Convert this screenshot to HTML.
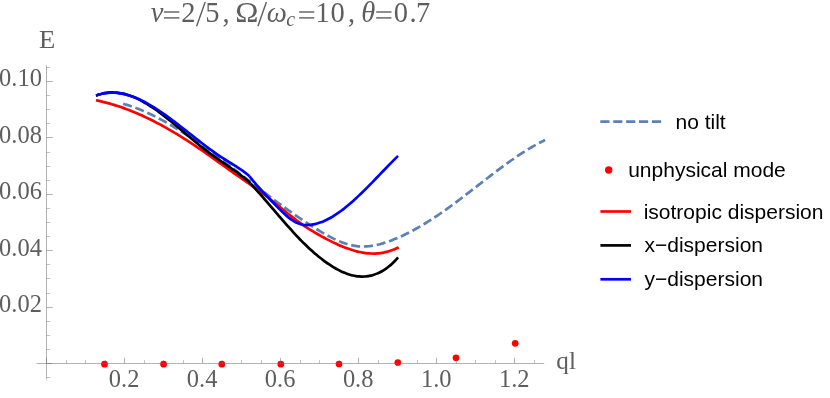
<!DOCTYPE html>
<html><head><meta charset="utf-8"><title>plot</title>
<style>
html,body{margin:0;padding:0;background:#fff;}
body{width:830px;height:398px;overflow:hidden;font-family:"Liberation Sans",sans-serif;}
svg{display:block;}
</style></head><body>
<svg width="830" height="398" viewBox="0 0 830 398" style="will-change:transform">
<rect width="830" height="398" fill="#fff"/>
<path d="M123.20 103.75 C123.70 103.90 125.19 104.33 126.19 104.64 C127.19 104.94 128.19 105.26 129.18 105.59 C130.18 105.92 131.18 106.26 132.18 106.61 C133.17 106.96 134.17 107.33 135.17 107.70 C136.17 108.07 137.16 108.46 138.16 108.85 C139.16 109.25 140.16 109.65 141.15 110.07 C142.15 110.48 143.15 110.91 144.15 111.34 C145.14 111.77 146.14 112.22 147.14 112.67 C148.13 113.13 149.13 113.59 150.13 114.06 C151.13 114.53 152.12 115.02 153.12 115.51 C154.12 116.00 155.12 116.50 156.11 117.00 C157.11 117.51 158.11 118.03 159.11 118.55 C160.10 119.08 161.10 119.61 162.10 120.15 C163.10 120.70 164.09 121.25 165.09 121.80 C166.09 122.36 167.09 122.92 168.08 123.50 C169.08 124.07 170.08 124.65 171.08 125.24 C172.07 125.82 173.07 126.42 174.07 127.02 C175.06 127.62 176.06 128.23 177.06 128.84 C178.06 129.46 179.05 130.08 180.05 130.71 C181.05 131.34 182.05 131.97 183.04 132.61 C184.04 133.25 185.04 133.90 186.04 134.55 C187.03 135.20 188.03 135.86 189.03 136.52 C190.03 137.19 191.02 137.86 192.02 138.53 C193.02 139.20 194.02 139.88 195.01 140.57 C196.01 141.25 197.01 141.94 198.00 142.63 C199.00 143.33 200.00 144.03 201.00 144.73 C201.99 145.43 202.99 146.14 203.99 146.85 C204.99 147.56 205.98 148.27 206.98 148.99 C207.98 149.71 208.98 150.43 209.97 151.16 C210.97 151.89 211.97 152.62 212.97 153.35 C213.96 154.08 214.96 154.82 215.96 155.56 C216.96 156.30 217.95 157.04 218.95 157.78 C219.95 158.53 220.95 159.27 221.94 160.02 C222.94 160.77 223.94 161.52 224.93 162.28 C225.93 163.03 226.93 163.79 227.93 164.54 C228.92 165.30 229.92 166.06 230.92 166.82 C231.92 167.58 232.91 168.34 233.91 169.11 C234.91 169.87 235.91 170.64 236.90 171.40 C237.90 172.17 238.90 172.93 239.90 173.70 C240.89 174.47 241.89 175.23 242.89 176.00 C243.89 176.77 244.88 177.54 245.88 178.31 C246.88 179.08 247.87 179.84 248.87 180.61 C249.87 181.38 250.87 182.15 251.86 182.92 C252.86 183.68 253.86 184.45 254.86 185.22 C255.85 185.98 256.85 186.75 257.85 187.51 C258.85 188.28 259.84 189.04 260.84 189.80 C261.84 190.56 262.84 191.32 263.83 192.08 C264.83 192.84 265.83 193.60 266.83 194.35 C267.82 195.11 268.82 195.86 269.82 196.61 C270.82 197.36 271.81 198.11 272.81 198.86 C273.81 199.60 274.80 200.34 275.80 201.09 C276.80 201.83 277.80 202.56 278.79 203.30 C279.79 204.03 280.79 204.76 281.79 205.49 C282.78 206.22 283.78 206.95 284.78 207.67 C285.78 208.39 286.77 209.11 287.77 209.82 C288.77 210.53 289.77 211.24 290.76 211.95 C291.76 212.65 292.76 213.35 293.76 214.05 C294.75 214.75 295.75 215.44 296.75 216.13 C297.74 216.81 298.74 217.50 299.74 218.17 C300.74 218.85 301.73 219.52 302.73 220.19 C303.73 220.86 304.73 221.52 305.72 222.17 C306.72 222.83 307.72 223.48 308.72 224.12 C309.71 224.77 310.71 225.41 311.71 226.04 C312.71 226.67 313.70 227.30 314.70 227.91 C315.70 228.53 316.70 229.15 317.69 229.75 C318.69 230.36 319.69 230.96 320.69 231.55 C321.68 232.14 322.68 232.73 323.68 233.30 C324.67 233.87 325.67 234.44 326.67 234.99 C327.67 235.55 328.66 236.09 329.66 236.62 C330.66 237.14 331.66 237.66 332.65 238.16 C333.65 238.66 334.65 239.14 335.65 239.61 C336.64 240.08 337.64 240.53 338.64 240.95 C339.64 241.38 340.63 241.79 341.63 242.18 C342.63 242.57 343.63 242.94 344.62 243.28 C345.62 243.62 346.62 243.94 347.61 244.24 C348.61 244.53 349.61 244.80 350.61 245.04 C351.60 245.28 352.60 245.49 353.60 245.67 C354.60 245.86 355.59 246.01 356.59 246.13 C357.59 246.26 358.59 246.35 359.58 246.41 C360.58 246.47 361.58 246.51 362.58 246.52 C363.57 246.52 364.57 246.50 365.57 246.45 C366.57 246.41 367.56 246.33 368.56 246.24 C369.56 246.14 370.56 246.02 371.55 245.88 C372.55 245.73 373.55 245.56 374.54 245.38 C375.54 245.19 376.54 244.98 377.54 244.75 C378.53 244.52 379.53 244.27 380.53 244.00 C381.53 243.74 382.52 243.45 383.52 243.15 C384.52 242.85 385.52 242.53 386.51 242.19 C387.51 241.86 388.51 241.51 389.51 241.15 C390.50 240.78 391.50 240.41 392.50 240.02 C393.50 239.63 394.49 239.23 395.49 238.81 C396.49 238.40 397.48 237.98 398.48 237.54 C399.48 237.11 400.48 236.66 401.47 236.20 C402.47 235.74 403.47 235.27 404.47 234.79 C405.46 234.31 406.46 233.82 407.46 233.32 C408.46 232.82 409.45 232.31 410.45 231.79 C411.45 231.27 412.45 230.74 413.44 230.20 C414.44 229.66 415.44 229.11 416.44 228.55 C417.43 227.99 418.43 227.42 419.43 226.84 C420.43 226.26 421.42 225.68 422.42 225.08 C423.42 224.48 424.41 223.88 425.41 223.27 C426.41 222.66 427.41 222.03 428.40 221.41 C429.40 220.78 430.40 220.14 431.40 219.50 C432.39 218.85 433.39 218.20 434.39 217.54 C435.39 216.88 436.38 216.22 437.38 215.54 C438.38 214.87 439.38 214.19 440.37 213.50 C441.37 212.82 442.37 212.13 443.37 211.43 C444.36 210.73 445.36 210.02 446.36 209.31 C447.35 208.60 448.35 207.88 449.35 207.16 C450.35 206.44 451.34 205.71 452.34 204.97 C453.34 204.24 454.34 203.50 455.33 202.76 C456.33 202.02 457.33 201.27 458.33 200.52 C459.32 199.77 460.32 199.02 461.32 198.26 C462.32 197.50 463.31 196.74 464.31 195.98 C465.31 195.21 466.31 194.45 467.30 193.68 C468.30 192.91 469.30 192.14 470.30 191.37 C471.29 190.60 472.29 189.83 473.29 189.06 C474.28 188.28 475.28 187.51 476.28 186.73 C477.28 185.96 478.27 185.18 479.27 184.41 C480.27 183.64 481.27 182.86 482.26 182.09 C483.26 181.32 484.26 180.54 485.26 179.77 C486.25 179.00 487.25 178.23 488.25 177.47 C489.25 176.70 490.24 175.94 491.24 175.17 C492.24 174.41 493.24 173.65 494.23 172.90 C495.23 172.14 496.23 171.39 497.22 170.64 C498.22 169.89 499.22 169.14 500.22 168.40 C501.21 167.66 502.21 166.92 503.21 166.19 C504.21 165.46 505.20 164.74 506.20 164.01 C507.20 163.29 508.20 162.58 509.19 161.87 C510.19 161.16 511.19 160.46 512.19 159.76 C513.18 159.07 514.18 158.38 515.18 157.69 C516.18 157.01 517.17 156.34 518.17 155.67 C519.17 155.00 520.17 154.34 521.16 153.69 C522.16 153.04 523.16 152.40 524.15 151.77 C525.15 151.13 526.15 150.51 527.15 149.90 C528.14 149.28 529.14 148.68 530.14 148.08 C531.14 147.49 532.13 146.91 533.13 146.33 C534.13 145.76 535.13 145.20 536.12 144.65 C537.12 144.09 538.12 143.55 539.12 143.03 C540.11 142.50 541.11 141.98 542.11 141.48 C543.11 140.98 544.60 140.26 545.10 140.01" fill="none" stroke="#5e81b5" stroke-width="2.7" stroke-dasharray="9 3.85"/>
<path d="M96.00 100.25 C96.50 100.36 98.00 100.67 99.00 100.89 C99.99 101.12 100.99 101.35 101.99 101.59 C102.99 101.83 103.99 102.07 104.99 102.33 C105.99 102.59 106.99 102.85 107.98 103.13 C108.98 103.40 109.98 103.69 110.98 103.98 C111.98 104.27 112.98 104.57 113.98 104.88 C114.97 105.18 115.97 105.50 116.97 105.82 C117.97 106.15 118.97 106.48 119.97 106.82 C120.97 107.16 121.97 107.51 122.96 107.87 C123.96 108.22 124.96 108.59 125.96 108.96 C126.96 109.33 127.96 109.71 128.96 110.10 C129.96 110.49 130.95 110.88 131.95 111.29 C132.95 111.69 133.95 112.10 134.95 112.52 C135.95 112.93 136.95 113.36 137.94 113.79 C138.94 114.23 139.94 114.67 140.94 115.11 C141.94 115.56 142.94 116.01 143.94 116.48 C144.94 116.94 145.93 117.41 146.93 117.88 C147.93 118.36 148.93 118.84 149.93 119.33 C150.93 119.82 151.93 120.32 152.92 120.82 C153.92 121.32 154.92 121.83 155.92 122.35 C156.92 122.86 157.92 123.39 158.92 123.92 C159.92 124.45 160.91 124.98 161.91 125.53 C162.91 126.07 163.91 126.62 164.91 127.17 C165.91 127.73 166.91 128.29 167.90 128.86 C168.90 129.42 169.90 130.00 170.90 130.58 C171.90 131.16 172.90 131.74 173.90 132.34 C174.90 132.93 175.89 133.53 176.89 134.13 C177.89 134.73 178.89 135.34 179.89 135.96 C180.89 136.57 181.89 137.19 182.89 137.82 C183.88 138.44 184.88 139.08 185.88 139.71 C186.88 140.35 187.88 140.99 188.88 141.64 C189.88 142.29 190.87 142.94 191.87 143.60 C192.87 144.26 193.87 144.92 194.87 145.59 C195.87 146.26 196.87 146.94 197.87 147.61 C198.86 148.29 199.86 148.98 200.86 149.66 C201.86 150.35 202.86 151.04 203.86 151.74 C204.86 152.43 205.85 153.13 206.85 153.84 C207.85 154.54 208.85 155.24 209.85 155.95 C210.85 156.66 211.85 157.37 212.85 158.08 C213.84 158.79 214.84 159.50 215.84 160.21 C216.84 160.93 217.84 161.64 218.84 162.36 C219.84 163.07 220.83 163.79 221.83 164.50 C222.83 165.22 223.83 165.94 224.83 166.65 C225.83 167.36 226.83 168.08 227.83 168.79 C228.82 169.50 229.82 170.22 230.82 170.93 C231.82 171.63 232.82 172.34 233.82 173.05 C234.82 173.75 235.82 174.46 236.81 175.15 C237.81 175.85 238.81 176.55 239.81 177.24 C240.81 177.94 241.81 178.63 242.81 179.31 C243.80 180.00 244.80 180.69 245.80 181.38 C246.80 182.07 247.80 182.75 248.80 183.45 C249.80 184.14 250.80 184.83 251.79 185.52 C252.79 186.22 253.79 186.92 254.79 187.63 C255.79 188.33 256.79 189.05 257.79 189.76 C258.78 190.48 259.78 191.21 260.78 191.95 C261.78 192.68 262.78 193.43 263.78 194.18 C264.78 194.94 265.78 195.70 266.77 196.48 C267.77 197.26 268.77 198.04 269.77 198.84 C270.77 199.63 271.77 200.44 272.77 201.24 C273.77 202.05 274.76 202.86 275.76 203.68 C276.76 204.49 277.76 205.31 278.76 206.13 C279.76 206.95 280.76 207.77 281.75 208.59 C282.75 209.40 283.75 210.22 284.75 211.03 C285.75 211.84 286.75 212.65 287.75 213.45 C288.75 214.25 289.74 215.05 290.74 215.83 C291.74 216.62 292.74 217.40 293.74 218.17 C294.74 218.94 295.74 219.70 296.73 220.45 C297.73 221.19 298.73 221.93 299.73 222.65 C300.73 223.37 301.73 224.08 302.73 224.78 C303.73 225.47 304.72 226.15 305.72 226.81 C306.72 227.48 307.72 228.13 308.72 228.77 C309.72 229.41 310.72 230.04 311.71 230.66 C312.71 231.27 313.71 231.88 314.71 232.47 C315.71 233.06 316.71 233.65 317.71 234.22 C318.71 234.80 319.70 235.36 320.70 235.91 C321.70 236.47 322.70 237.01 323.70 237.55 C324.70 238.08 325.70 238.61 326.70 239.12 C327.69 239.64 328.69 240.15 329.69 240.65 C330.69 241.15 331.69 241.64 332.69 242.12 C333.69 242.60 334.68 243.08 335.68 243.54 C336.68 244.01 337.68 244.46 338.68 244.90 C339.68 245.35 340.68 245.78 341.68 246.20 C342.67 246.62 343.67 247.02 344.67 247.42 C345.67 247.81 346.67 248.18 347.67 248.54 C348.67 248.90 349.66 249.25 350.66 249.57 C351.66 249.90 352.66 250.21 353.66 250.50 C354.66 250.79 355.66 251.07 356.66 251.32 C357.65 251.57 358.65 251.81 359.65 252.02 C360.65 252.24 361.65 252.43 362.65 252.60 C363.65 252.77 364.64 252.92 365.64 253.05 C366.64 253.17 367.64 253.28 368.64 253.36 C369.64 253.43 370.64 253.49 371.64 253.52 C372.63 253.55 373.63 253.55 374.63 253.53 C375.63 253.51 376.63 253.46 377.63 253.39 C378.63 253.31 379.63 253.21 380.62 253.07 C381.62 252.94 382.62 252.78 383.62 252.59 C384.62 252.39 385.62 252.17 386.62 251.92 C387.61 251.67 388.61 251.38 389.61 251.07 C390.61 250.75 391.61 250.40 392.61 250.02 C393.61 249.64 394.61 249.22 395.60 248.77 C396.60 248.32 398.10 247.56 398.60 247.31" fill="none" stroke="#ff0000" stroke-width="2.7" stroke-linejoin="round"/>
<path d="M96.00 95.68 C96.50 95.50 97.98 94.91 98.97 94.59 C99.96 94.26 100.95 93.97 101.94 93.73 C102.93 93.48 103.92 93.27 104.91 93.09 C105.90 92.92 106.89 92.78 107.88 92.68 C108.88 92.57 109.87 92.51 110.86 92.47 C111.85 92.44 112.84 92.44 113.83 92.48 C114.82 92.51 115.81 92.57 116.80 92.67 C117.79 92.77 118.78 92.90 119.77 93.06 C120.76 93.21 121.75 93.40 122.74 93.62 C123.73 93.84 124.72 94.09 125.71 94.36 C126.70 94.63 127.69 94.93 128.68 95.26 C129.67 95.59 130.66 95.94 131.65 96.32 C132.64 96.70 133.63 97.10 134.62 97.53 C135.62 97.95 136.61 98.40 137.60 98.87 C138.59 99.35 139.58 99.84 140.57 100.36 C141.56 100.87 142.55 101.41 143.54 101.96 C144.53 102.52 145.52 103.09 146.51 103.69 C147.50 104.28 148.49 104.89 149.48 105.52 C150.47 106.15 151.46 106.80 152.45 107.46 C153.44 108.12 154.43 108.80 155.42 109.49 C156.41 110.18 157.40 110.88 158.39 111.60 C159.38 112.32 160.38 113.05 161.37 113.80 C162.36 114.54 163.35 115.30 164.34 116.06 C165.33 116.83 166.32 117.61 167.31 118.39 C168.30 119.18 169.29 119.97 170.28 120.78 C171.27 121.58 172.26 122.39 173.25 123.21 C174.24 124.02 175.23 124.85 176.22 125.68 C177.21 126.50 178.20 127.34 179.19 128.18 C180.18 129.01 181.17 129.86 182.16 130.70 C183.15 131.54 184.14 132.39 185.13 133.24 C186.12 134.09 187.12 134.93 188.11 135.78 C189.10 136.62 190.09 137.47 191.08 138.31 C192.07 139.15 193.06 139.98 194.05 140.81 C195.04 141.64 196.03 142.47 197.02 143.28 C198.01 144.10 199.00 144.91 199.99 145.70 C200.98 146.50 201.97 147.29 202.96 148.07 C203.95 148.85 204.94 149.61 205.93 150.36 C206.92 151.12 207.91 151.86 208.90 152.60 C209.89 153.33 210.88 154.06 211.88 154.77 C212.87 155.49 213.86 156.20 214.85 156.91 C215.84 157.61 216.83 158.31 217.82 159.00 C218.81 159.69 219.80 160.38 220.79 161.06 C221.78 161.75 222.77 162.42 223.76 163.10 C224.75 163.78 225.74 164.46 226.73 165.14 C227.72 165.82 228.71 166.51 229.70 167.19 C230.69 167.88 231.68 168.57 232.67 169.27 C233.66 169.97 234.65 170.67 235.64 171.39 C236.63 172.10 237.62 172.82 238.62 173.56 C239.61 174.30 240.60 175.04 241.59 175.81 C242.58 176.57 243.57 177.34 244.56 178.14 C245.55 178.93 246.54 179.71 247.53 180.58 C248.52 181.44 250.00 182.87 250.50 183.33 " fill="none" stroke="#000" stroke-width="2.7"/>
<path d="M250.50 183.33 C251.00 183.90 252.51 185.64 253.51 186.77 C254.52 187.89 255.52 188.97 256.52 190.08 C257.53 191.19 258.53 192.32 259.54 193.45 C260.54 194.59 261.54 195.73 262.55 196.88 C263.55 198.03 264.56 199.19 265.56 200.35 C266.57 201.51 267.57 202.67 268.57 203.84 C269.58 205.01 270.58 206.19 271.59 207.36 C272.59 208.53 273.59 209.71 274.60 210.88 C275.60 212.05 276.61 213.23 277.61 214.40 C278.61 215.57 279.62 216.74 280.62 217.90 C281.63 219.07 282.63 220.23 283.63 221.38 C284.64 222.53 285.64 223.68 286.65 224.82 C287.65 225.96 288.66 227.09 289.66 228.21 C290.66 229.34 291.67 230.45 292.67 231.55 C293.68 232.65 294.68 233.73 295.68 234.81 C296.69 235.88 297.69 236.94 298.70 237.99 C299.70 239.03 300.70 240.06 301.71 241.08 C302.71 242.09 303.72 243.09 304.72 244.07 C305.72 245.06 306.73 246.02 307.73 246.97 C308.74 247.92 309.74 248.86 310.74 249.77 C311.75 250.69 312.75 251.58 313.76 252.46 C314.76 253.34 315.77 254.20 316.77 255.04 C317.77 255.89 318.78 256.71 319.78 257.51 C320.79 258.31 321.79 259.10 322.79 259.86 C323.80 260.62 324.80 261.36 325.81 262.09 C326.81 262.81 327.81 263.51 328.82 264.18 C329.82 264.86 330.83 265.52 331.83 266.15 C332.83 266.78 333.84 267.39 334.84 267.98 C335.85 268.56 336.85 269.12 337.86 269.65 C338.86 270.19 339.86 270.69 340.87 271.17 C341.87 271.65 342.88 272.10 343.88 272.53 C344.88 272.95 345.89 273.34 346.89 273.70 C347.90 274.06 348.90 274.39 349.90 274.69 C350.91 274.99 351.91 275.25 352.92 275.48 C353.92 275.71 354.92 275.91 355.93 276.07 C356.93 276.23 357.94 276.36 358.94 276.44 C359.94 276.53 360.95 276.58 361.95 276.59 C362.96 276.60 363.96 276.57 364.97 276.50 C365.97 276.44 366.97 276.33 367.98 276.17 C368.98 276.02 369.99 275.83 370.99 275.59 C371.99 275.35 373.00 275.07 374.00 274.75 C375.01 274.42 376.01 274.05 377.01 273.63 C378.02 273.21 379.02 272.75 380.03 272.23 C381.03 271.72 382.03 271.16 383.04 270.55 C384.04 269.93 385.05 269.27 386.05 268.56 C387.06 267.84 388.06 267.08 389.06 266.26 C390.07 265.44 391.07 264.57 392.08 263.64 C393.08 262.71 394.08 261.73 395.09 260.69 C396.09 259.66 397.60 257.96 398.10 257.41" fill="none" stroke="#000" stroke-width="2.7"/>
<path d="M96.00 95.48 C96.50 95.32 98.01 94.79 99.01 94.50 C100.01 94.21 101.02 93.96 102.02 93.74 C103.02 93.52 104.03 93.34 105.03 93.18 C106.03 93.03 107.04 92.92 108.04 92.83 C109.04 92.75 110.05 92.70 111.05 92.67 C112.05 92.65 113.06 92.66 114.06 92.70 C115.06 92.74 116.07 92.82 117.07 92.92 C118.07 93.01 119.08 93.14 120.08 93.30 C121.08 93.45 122.08 93.64 123.09 93.85 C124.09 94.06 125.09 94.30 126.10 94.56 C127.10 94.82 128.10 95.11 129.11 95.42 C130.11 95.73 131.11 96.06 132.12 96.42 C133.12 96.78 134.12 97.16 135.13 97.56 C136.13 97.96 137.13 98.39 138.14 98.83 C139.14 99.28 140.14 99.74 141.15 100.23 C142.15 100.71 143.15 101.21 144.16 101.73 C145.16 102.26 146.16 102.80 147.17 103.35 C148.17 103.91 149.17 104.48 150.18 105.07 C151.18 105.66 152.18 106.26 153.19 106.88 C154.19 107.50 155.19 108.13 156.20 108.78 C157.20 109.43 158.20 110.09 159.21 110.76 C160.21 111.43 161.21 112.11 162.22 112.81 C163.22 113.50 164.22 114.21 165.23 114.92 C166.23 115.64 167.23 116.36 168.24 117.09 C169.24 117.83 170.24 118.57 171.25 119.32 C172.25 120.06 173.25 120.82 174.25 121.58 C175.26 122.34 176.26 123.11 177.26 123.88 C178.27 124.66 179.27 125.43 180.27 126.21 C181.28 126.99 182.28 127.78 183.28 128.57 C184.29 129.35 185.29 130.14 186.29 130.93 C187.30 131.72 188.30 132.51 189.30 133.31 C190.31 134.10 191.31 134.89 192.31 135.68 C193.32 136.47 194.32 137.26 195.32 138.04 C196.33 138.83 197.33 139.62 198.33 140.40 C199.34 141.18 200.34 141.95 201.34 142.72 C202.35 143.50 203.35 144.26 204.35 145.02 C205.36 145.79 206.36 146.54 207.36 147.29 C208.37 148.04 209.37 148.78 210.37 149.51 C211.38 150.24 212.38 150.97 213.38 151.68 C214.39 152.39 215.39 153.10 216.39 153.79 C217.40 154.48 218.40 155.17 219.40 155.84 C220.41 156.51 221.41 157.16 222.41 157.81 C223.42 158.46 224.42 159.10 225.42 159.74 C226.42 160.37 227.43 161.00 228.43 161.63 C229.43 162.26 230.44 162.88 231.44 163.51 C232.44 164.14 233.45 164.77 234.45 165.41 C235.45 166.05 236.46 166.70 237.46 167.36 C238.46 168.02 239.47 168.68 240.47 169.37 C241.47 170.05 242.48 170.75 243.48 171.47 C244.48 172.19 245.49 172.90 246.49 173.69 C247.49 174.48 249.00 175.80 249.50 176.22" fill="none" stroke="#0000ff" stroke-width="2.7"/>
<path d="M249.50 176.22 C250.00 176.87 251.48 178.85 252.47 180.08 C253.46 181.31 254.45 182.45 255.44 183.61 C256.43 184.76 257.42 185.88 258.41 187.00 C259.40 188.11 260.39 189.20 261.38 190.28 C262.37 191.36 263.36 192.42 264.35 193.47 C265.34 194.53 266.33 195.57 267.32 196.60 C268.31 197.64 269.30 198.66 270.29 199.69 C271.28 200.72 272.27 201.74 273.26 202.76 C274.25 203.78 275.24 204.81 276.23 205.83 C277.22 206.84 278.21 207.86 279.20 208.86 C280.19 209.85 281.18 210.83 282.17 211.78 C283.16 212.73 284.15 213.67 285.14 214.55 C286.13 215.44 287.12 216.30 288.11 217.11 C289.10 217.91 290.09 218.68 291.08 219.38 C292.07 220.08 293.06 220.73 294.05 221.31 C295.04 221.89 296.03 222.42 297.02 222.87 C298.01 223.32 299.00 223.71 299.99 224.02 C300.98 224.34 301.97 224.57 302.96 224.74 C303.95 224.91 304.94 224.99 305.93 225.03 C306.92 225.07 307.91 225.03 308.90 224.97 C309.89 224.91 310.88 224.79 311.87 224.64 C312.86 224.50 313.85 224.31 314.84 224.09 C315.83 223.87 316.82 223.61 317.81 223.32 C318.80 223.03 319.79 222.70 320.78 222.34 C321.77 221.98 322.76 221.58 323.75 221.16 C324.74 220.74 325.73 220.28 326.72 219.80 C327.71 219.31 328.70 218.79 329.69 218.25 C330.68 217.71 331.67 217.14 332.66 216.54 C333.65 215.94 334.64 215.31 335.63 214.67 C336.62 214.02 337.61 213.34 338.60 212.64 C339.59 211.95 340.58 211.23 341.57 210.48 C342.56 209.74 343.55 208.98 344.54 208.19 C345.53 207.41 346.52 206.60 347.51 205.78 C348.50 204.96 349.49 204.12 350.48 203.26 C351.47 202.40 352.46 201.53 353.45 200.64 C354.44 199.75 355.43 198.84 356.42 197.93 C357.41 197.01 358.40 196.08 359.39 195.13 C360.38 194.19 361.37 193.23 362.36 192.27 C363.35 191.30 364.34 190.32 365.33 189.34 C366.32 188.36 367.31 187.36 368.30 186.36 C369.29 185.36 370.28 184.35 371.27 183.34 C372.26 182.33 373.25 181.31 374.24 180.29 C375.23 179.27 376.22 178.24 377.21 177.21 C378.20 176.18 379.19 175.15 380.18 174.12 C381.17 173.09 382.16 172.06 383.15 171.03 C384.14 170.00 385.13 168.97 386.12 167.95 C387.11 166.92 388.10 165.90 389.09 164.88 C390.08 163.86 391.07 162.84 392.06 161.83 C393.05 160.83 394.04 159.82 395.03 158.83 C396.02 157.83 397.50 156.36 398.00 155.87" fill="none" stroke="#0000ff" stroke-width="2.7"/>
<circle cx="104.5" cy="364.2" r="3.35" fill="#ff0000"/>
<circle cx="163.6" cy="364.2" r="3.35" fill="#ff0000"/>
<circle cx="221.8" cy="364.2" r="3.35" fill="#ff0000"/>
<circle cx="280.8" cy="364.2" r="3.35" fill="#ff0000"/>
<circle cx="339.0" cy="364.0" r="3.35" fill="#ff0000"/>
<circle cx="397.8" cy="362.5" r="3.35" fill="#ff0000"/>
<circle cx="456.0" cy="357.8" r="3.35" fill="#ff0000"/>
<circle cx="515.2" cy="343.3" r="3.35" fill="#ff0000"/>
<g stroke="#666" stroke-width="0.5" fill="none">
<line x1="36.5" y1="363.50" x2="544.2" y2="363.50"/>
<line x1="46.50" y1="65.3" x2="46.50" y2="379.6"/>
<line x1="46.50" y1="363.50" x2="46.50" y2="357.80" stroke-width="0.5"/>
<line x1="66.50" y1="363.50" x2="66.50" y2="360.10" stroke-width="0.4"/>
<line x1="85.50" y1="363.50" x2="85.50" y2="360.10" stroke-width="0.4"/>
<line x1="105.50" y1="363.50" x2="105.50" y2="360.10" stroke-width="0.4"/>
<line x1="124.50" y1="363.50" x2="124.50" y2="357.80" stroke-width="0.5"/>
<line x1="144.50" y1="363.50" x2="144.50" y2="360.10" stroke-width="0.4"/>
<line x1="163.50" y1="363.50" x2="163.50" y2="360.10" stroke-width="0.4"/>
<line x1="183.50" y1="363.50" x2="183.50" y2="360.10" stroke-width="0.4"/>
<line x1="202.50" y1="363.50" x2="202.50" y2="357.80" stroke-width="0.5"/>
<line x1="222.50" y1="363.50" x2="222.50" y2="360.10" stroke-width="0.4"/>
<line x1="241.50" y1="363.50" x2="241.50" y2="360.10" stroke-width="0.4"/>
<line x1="261.50" y1="363.50" x2="261.50" y2="360.10" stroke-width="0.4"/>
<line x1="280.50" y1="363.50" x2="280.50" y2="357.80" stroke-width="0.5"/>
<line x1="300.50" y1="363.50" x2="300.50" y2="360.10" stroke-width="0.4"/>
<line x1="319.50" y1="363.50" x2="319.50" y2="360.10" stroke-width="0.4"/>
<line x1="339.50" y1="363.50" x2="339.50" y2="360.10" stroke-width="0.4"/>
<line x1="358.50" y1="363.50" x2="358.50" y2="357.80" stroke-width="0.5"/>
<line x1="378.50" y1="363.50" x2="378.50" y2="360.10" stroke-width="0.4"/>
<line x1="397.50" y1="363.50" x2="397.50" y2="360.10" stroke-width="0.4"/>
<line x1="417.50" y1="363.50" x2="417.50" y2="360.10" stroke-width="0.4"/>
<line x1="436.50" y1="363.50" x2="436.50" y2="357.80" stroke-width="0.5"/>
<line x1="456.50" y1="363.50" x2="456.50" y2="360.10" stroke-width="0.4"/>
<line x1="475.50" y1="363.50" x2="475.50" y2="360.10" stroke-width="0.4"/>
<line x1="495.50" y1="363.50" x2="495.50" y2="360.10" stroke-width="0.4"/>
<line x1="514.50" y1="363.50" x2="514.50" y2="357.80" stroke-width="0.5"/>
<line x1="534.50" y1="363.50" x2="534.50" y2="360.10" stroke-width="0.4"/>
<line x1="46.50" y1="377.50" x2="50.30" y2="377.50" stroke-width="0.4"/>
<line x1="46.50" y1="363.50" x2="52.70" y2="363.50" stroke-width="0.5"/>
<line x1="46.50" y1="349.50" x2="50.30" y2="349.50" stroke-width="0.4"/>
<line x1="46.50" y1="335.50" x2="50.30" y2="335.50" stroke-width="0.4"/>
<line x1="46.50" y1="321.50" x2="50.30" y2="321.50" stroke-width="0.4"/>
<line x1="46.50" y1="307.50" x2="52.70" y2="307.50" stroke-width="0.5"/>
<line x1="46.50" y1="293.50" x2="50.30" y2="293.50" stroke-width="0.4"/>
<line x1="46.50" y1="278.50" x2="50.30" y2="278.50" stroke-width="0.4"/>
<line x1="46.50" y1="264.50" x2="50.30" y2="264.50" stroke-width="0.4"/>
<line x1="46.50" y1="250.50" x2="52.70" y2="250.50" stroke-width="0.5"/>
<line x1="46.50" y1="236.50" x2="50.30" y2="236.50" stroke-width="0.4"/>
<line x1="46.50" y1="222.50" x2="50.30" y2="222.50" stroke-width="0.4"/>
<line x1="46.50" y1="208.50" x2="50.30" y2="208.50" stroke-width="0.4"/>
<line x1="46.50" y1="194.50" x2="52.70" y2="194.50" stroke-width="0.5"/>
<line x1="46.50" y1="180.50" x2="50.30" y2="180.50" stroke-width="0.4"/>
<line x1="46.50" y1="166.50" x2="50.30" y2="166.50" stroke-width="0.4"/>
<line x1="46.50" y1="152.50" x2="50.30" y2="152.50" stroke-width="0.4"/>
<line x1="46.50" y1="137.50" x2="52.70" y2="137.50" stroke-width="0.5"/>
<line x1="46.50" y1="123.50" x2="50.30" y2="123.50" stroke-width="0.4"/>
<line x1="46.50" y1="109.50" x2="50.30" y2="109.50" stroke-width="0.4"/>
<line x1="46.50" y1="95.50" x2="50.30" y2="95.50" stroke-width="0.4"/>
<line x1="46.50" y1="81.50" x2="52.70" y2="81.50" stroke-width="0.5"/>
<line x1="46.50" y1="67.50" x2="50.30" y2="67.50" stroke-width="0.4"/>
</g>
<line x1="600.3" y1="121.6" x2="661.2" y2="121.6" stroke="#5e81b5" stroke-width="2.6" stroke-dasharray="9.2 3.7"/>
<circle cx="608.7" cy="170.0" r="3.7" fill="#ff0000"/>
<line x1="600.4" y1="211.5" x2="631.0" y2="211.5" stroke="#ff0000" stroke-width="2.7"/>
<line x1="600.4" y1="245.4" x2="631.0" y2="245.4" stroke="#000" stroke-width="2.7"/>
<line x1="600.4" y1="279.3" x2="631.0" y2="279.3" stroke="#0000ff" stroke-width="2.7"/>
<g font-family="'Liberation Serif', serif" fill="#5e5e5e">
<text transform="translate(41.9,86.30) scale(1,1.03)" font-size="24.5" text-anchor="end">0.10</text>
<text transform="translate(41.9,142.70) scale(1,1.03)" font-size="24.5" text-anchor="end">0.08</text>
<text transform="translate(41.9,199.10) scale(1,1.03)" font-size="24.5" text-anchor="end">0.06</text>
<text transform="translate(41.9,255.50) scale(1,1.03)" font-size="24.5" text-anchor="end">0.04</text>
<text transform="translate(41.9,311.90) scale(1,1.03)" font-size="24.5" text-anchor="end">0.02</text>
<text transform="translate(124.12,386.9) scale(1,1.03)" font-size="24.5" text-anchor="middle">0.2</text>
<text transform="translate(202.14,386.9) scale(1,1.03)" font-size="24.5" text-anchor="middle">0.4</text>
<text transform="translate(280.16,386.9) scale(1,1.03)" font-size="24.5" text-anchor="middle">0.6</text>
<text transform="translate(358.18,386.9) scale(1,1.03)" font-size="24.5" text-anchor="middle">0.8</text>
<text transform="translate(436.20,386.9) scale(1,1.03)" font-size="24.5" text-anchor="middle">1.0</text>
<text transform="translate(514.22,386.9) scale(1,1.03)" font-size="24.5" text-anchor="middle">1.2</text>
<text transform="translate(47.2,47.9) scale(1.1,1)" font-size="24.2" text-anchor="middle">E</text>
<text transform="translate(556.3,368.9) scale(1,1.02)" font-size="25.2">ql</text>
<text x="150.7" y="21.7" font-size="28.5" font-style="italic">ν</text>
<text x="181.35" y="21.7" font-size="28.5">2</text>
<text x="205.25" y="21.7" font-size="28.5">5</text>
<text x="222.6" y="21.7" font-size="28.5">,</text>
<text transform="translate(235.3,21.7) scale(1.065,1)" font-size="29.3">Ω</text>
<text x="266.8" y="21.7" font-size="28.5" font-style="italic">ω</text>
<text x="286.3" y="25.6" font-size="20" font-style="italic">c</text>
<text x="315.6" y="21.7" font-size="28.5">1</text>
<text x="330.4" y="21.7" font-size="28.5">0</text>
<text x="347.9" y="21.7" font-size="28.5">,</text>
<text x="361.35" y="21.7" font-size="28.5" font-style="italic">θ</text>
<text x="393.8" y="21.7" font-size="28.5">0</text>
<text x="409.4" y="21.7" font-size="28.5">.</text>
<text x="416.1" y="21.7" font-size="28.5">7</text>
</g>
<line x1="163.9" y1="12.0" x2="179.4" y2="12.0" stroke="#5e5e5e" stroke-width="1.4"/>
<line x1="163.9" y1="17.9" x2="179.4" y2="17.9" stroke="#5e5e5e" stroke-width="1.4"/>
<line x1="299.1" y1="12.0" x2="314.3" y2="12.0" stroke="#5e5e5e" stroke-width="1.4"/>
<line x1="299.1" y1="17.9" x2="314.3" y2="17.9" stroke="#5e5e5e" stroke-width="1.4"/>
<line x1="376.2" y1="12.0" x2="391.5" y2="12.0" stroke="#5e5e5e" stroke-width="1.4"/>
<line x1="376.2" y1="17.9" x2="391.5" y2="17.9" stroke="#5e5e5e" stroke-width="1.4"/>
<line x1="196.6" y1="26.3" x2="205.2" y2="2.0" stroke="#5e5e5e" stroke-width="1.4"/>
<line x1="257.9" y1="26.2" x2="266.4" y2="1.9" stroke="#5e5e5e" stroke-width="1.4"/>
<g font-family="'Liberation Sans', sans-serif" fill="#000" font-size="21">
<text x="675.5" y="128.9">no tilt</text>
<text x="628.2" y="176.7">unphysical mode</text>
<text x="643.7" y="218.9">isotropic dispersion</text>
<text x="644.5" y="252.2">x−dispersion</text>
<text x="644.5" y="286.0">y−dispersion</text>
</g>
</svg>
</body></html>
